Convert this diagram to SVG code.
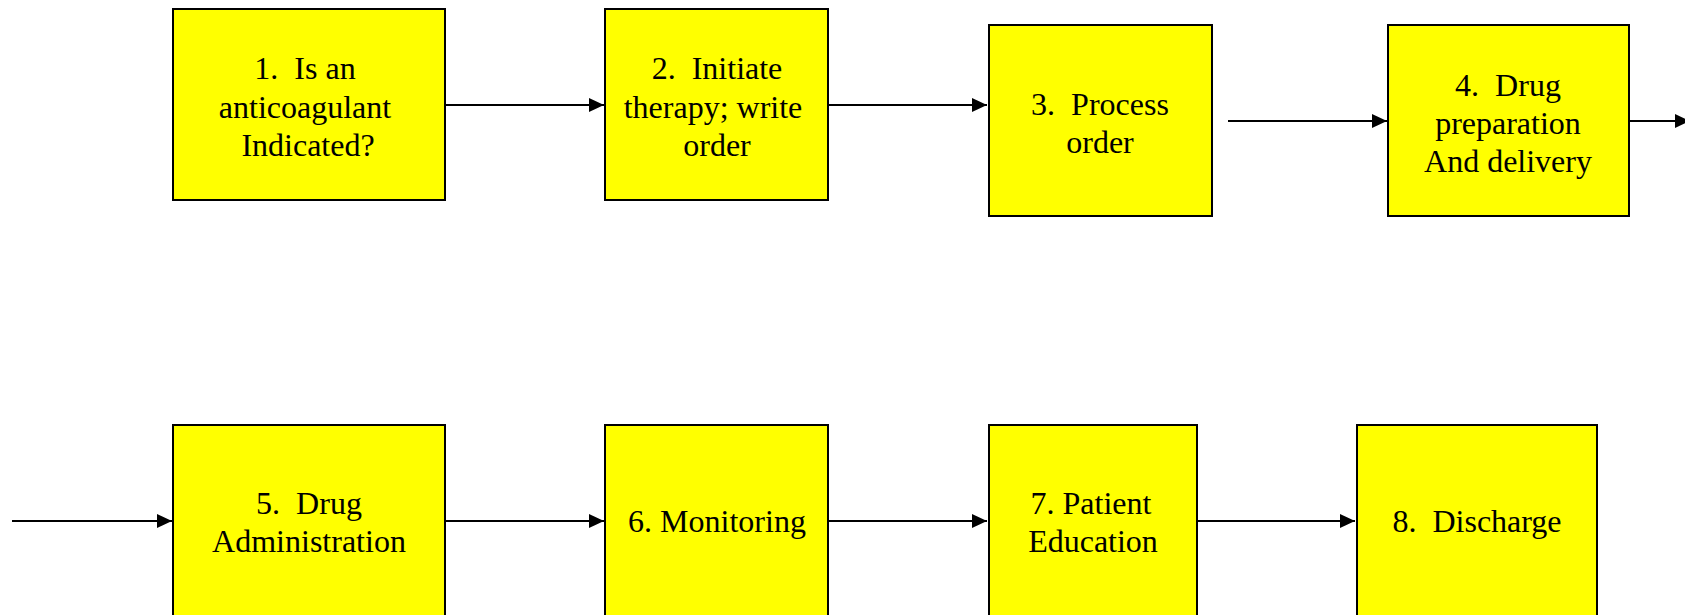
<svg xmlns="http://www.w3.org/2000/svg" width="1685" height="615" viewBox="0 0 1685 615">
<style>
.box{fill:#ffff00;stroke:#000;stroke-width:2}
.lbl{font-family:"Liberation Serif","Times New Roman",serif;font-size:32px;fill:#000;text-anchor:middle;white-space:pre}
.edge{stroke:#000;stroke-width:2;fill:none;marker-end:url(#ah)}
</style>
<defs>
<marker id="ah" markerUnits="userSpaceOnUse" markerWidth="16" markerHeight="16" viewBox="0 0 16 16" refX="15" refY="8" orient="auto">
<path d="M0,1 L15,8 L0,15 Z" fill="#000"/>
</marker>
</defs>
<rect width="1685" height="615" fill="#fff"/>
<g id="connectors">
<line class="edge" x1="445" y1="105" x2="604" y2="105"/>
<line class="edge" x1="828" y1="105" x2="987" y2="105"/>
<line class="edge" x1="1228" y1="121" x2="1387" y2="121"/>
<line class="edge" x1="1629" y1="121" x2="1690" y2="121"/>
<line class="edge" x1="12" y1="521" x2="172" y2="521"/>
<line class="edge" x1="445" y1="521" x2="604" y2="521"/>
<line class="edge" x1="828" y1="521" x2="987" y2="521"/>
<line class="edge" x1="1197" y1="521" x2="1355" y2="521"/>
</g>
<g id="node1">
<rect class="box" x="173" y="9" width="272" height="191"/>
<text class="lbl" x="305" y="79" xml:space="preserve">1.  Is an</text>
<text class="lbl" x="305" y="117.5">anticoagulant</text>
<text class="lbl" x="308" y="156">Indicated?</text>
</g>
<g id="node2">
<rect class="box" x="605" y="9" width="223" height="191"/>
<text class="lbl" x="717" y="79" xml:space="preserve">2.  Initiate</text>
<text class="lbl" x="713" y="117.5">therapy; write</text>
<text class="lbl" x="717" y="156">order</text>
</g>
<g id="node3">
<rect class="box" x="989" y="25" width="223" height="191"/>
<text class="lbl" x="1100" y="114.5" xml:space="preserve">3.  Process</text>
<text class="lbl" x="1100" y="152.5">order</text>
</g>
<g id="node4">
<rect class="box" x="1388" y="25" width="241" height="191"/>
<text class="lbl" x="1508" y="95.5" xml:space="preserve">4.  Drug</text>
<text class="lbl" x="1508" y="133.5">preparation</text>
<text class="lbl" x="1508" y="172">And delivery</text>
</g>
<g id="node5">
<rect class="box" x="173" y="425" width="272" height="192"/>
<text class="lbl" x="309" y="514" xml:space="preserve">5.  Drug</text>
<text class="lbl" x="309" y="552">Administration</text>
</g>
<g id="node6">
<rect class="box" x="605" y="425" width="223" height="192"/>
<text class="lbl" x="717" y="532">6. Monitoring</text>
</g>
<g id="node7">
<rect class="box" x="989" y="425" width="208" height="192"/>
<text class="lbl" x="1091" y="514">7. Patient</text>
<text class="lbl" x="1093" y="552">Education</text>
</g>
<g id="node8">
<rect class="box" x="1357" y="425" width="240" height="192"/>
<text class="lbl" x="1477" y="532" xml:space="preserve">8.  Discharge</text>
</g>
</svg>
